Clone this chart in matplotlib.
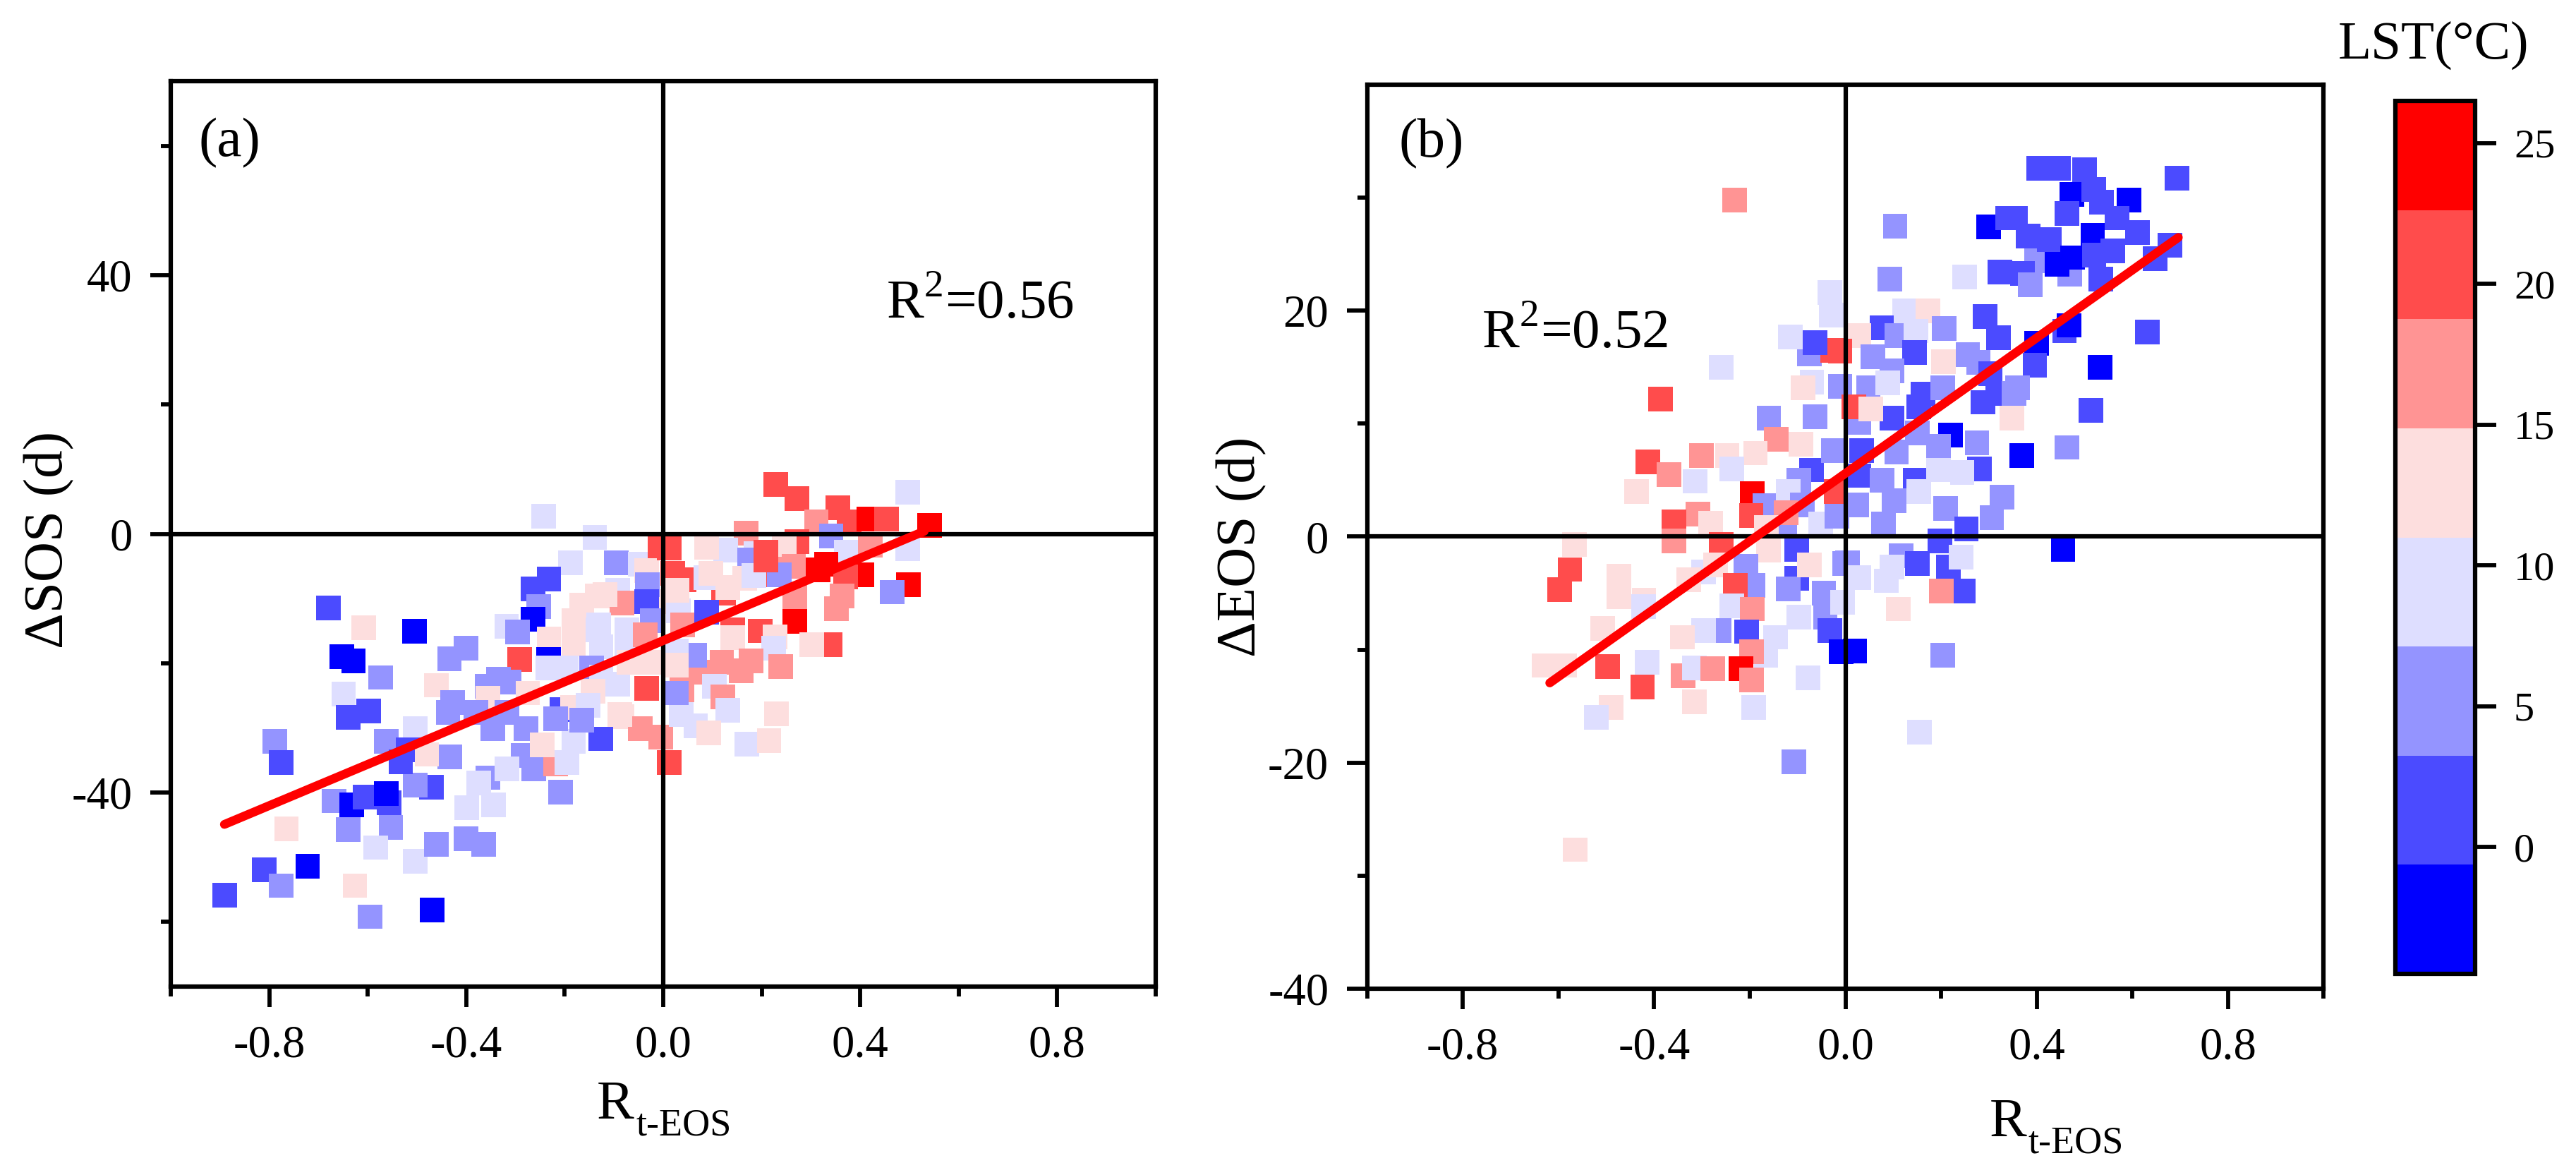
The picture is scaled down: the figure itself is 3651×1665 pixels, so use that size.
import numpy as np
import matplotlib
matplotlib.use("Agg")
import matplotlib.pyplot as plt
from matplotlib.colors import ListedColormap, BoundaryNorm
from matplotlib.cm import ScalarMappable
from matplotlib.ticker import FormatStrFormatter

plt.rcParams['font.family'] = ['Liberation Serif', 'DejaVu Serif']
plt.rcParams['mathtext.fontset'] = 'custom'
plt.rcParams['mathtext.rm'] = 'Liberation Serif'
plt.rcParams['axes.unicode_minus'] = False

# ---------------- colour scale (LST, degC) ----------------
lst_levels = [-4.5, -0.625, 3.25, 7.125, 11.0, 14.875, 18.75, 22.625, 26.5]
lst_colors = ['#0000FF', '#4B4BFF', '#9494FF', '#DEDEFF',
              '#FDDEDE', '#FF9494', '#FF4C4C', '#FF0000']
cbar_ticks = [0, 5, 10, 15, 20, 25]

# ---------------- panel (a): dSOS vs R_t-EOS ----------------
a_x = [-0.890, -0.810, -0.776, -0.722, -0.626, -0.595, -0.469, -0.765, -0.789, -0.776,
       -0.680, -0.608, -0.652, -0.629, -0.574, -0.649, -0.640, -0.598, -0.668, -0.633,
       -0.606, -0.556, -0.562, -0.640, -0.553, -0.584, -0.503, -0.460, -0.400, -0.365,
       -0.562,
       -0.134, -0.093, -0.138, -0.004, -0.126, -0.165,
       -0.243, -0.139, -0.188, -0.095, -0.046, -0.007, -0.232, -0.264, -0.253, -0.264,
       -0.505, -0.318, -0.296, -0.232, -0.291, -0.233, -0.401, -0.434, -0.461, -0.084,
       -0.118, -0.034, -0.032, -0.034, -0.023, -0.182, -0.182, -0.131, -0.074, -0.074,
       0.031, -0.036, -0.334, -0.313, -0.358, -0.356, -0.275, -0.235, -0.197, -0.145,
       -0.126, -0.093, -0.034, 0.038, -0.143, -0.205, -0.184, -0.152, -0.084, -0.046,
       -0.005, 0.012, -0.127, -0.182, -0.165, -0.219, -0.279, -0.317, -0.380, -0.437,
       -0.428, -0.346, -0.504, -0.433, -0.470, -0.504, -0.533, -0.356, -0.284, -0.263,
       -0.219, -0.195, -0.208, -0.399, -0.344, -0.375, -0.317, -0.246, 0.036, -0.088,
       -0.069, -0.021, 0.019, 0.040, -0.518, -0.480,
       0.228, 0.272, 0.354, 0.378, 0.311, 0.418, 0.454, 0.497, 0.541, 0.341,
       0.497, 0.421, 0.371, 0.168, 0.127, 0.088, 0.189, 0.175, 0.271, 0.246,
       0.208, 0.012, 0.043, 0.122, 0.314, 0.331, 0.403, 0.370, 0.498, 0.465,
       0.363, 0.352, 0.265, 0.267, 0.217, 0.210, 0.236, 0.267, 0.339, 0.302,
       0.197, 0.141, 0.141, 0.088, 0.028, 0.087, 0.097, 0.131, 0.165, 0.184,
       0.208, 0.227, 0.224, 0.239, 0.179, 0.119, 0.074, 0.158, 0.064, 0.026,
       0.026, 0.104, 0.121, 0.131, 0.230, 0.066, 0.093, 0.170, 0.215, 0.026]
a_y = [-55.9, -51.9, -54.4, -51.4, -54.4, -59.2, -58.2, -45.6, -32.1, -35.4,
       -11.5, -14.5, -19.0, -19.6, -22.2, -24.8, -28.4, -27.4, -41.3, -41.9,
       -40.7, -41.6, -40.2, -45.7, -45.4, -48.5, -50.6, -48.0, -47.1, -48.0,
       -32.1,
       -9.6, -8.7, -14.8, -10.5, -17.5, -11.0,
       2.7, -0.5, -4.5, -4.5, -4.7, -2.1, -7.0, -8.5, -11.2, -13.2,
       -15.1, -14.3, -15.2, -16.3, -19.4, -19.4, -17.7, -19.3, -23.4, -10.7,
       -9.4, -5.7, -7.9, -10.5, -13.4, -13.4, -17.0, -14.1, -14.8, -17.0,
       -11.9, -15.6, -22.5, -22.9, -23.6, -25.4, -24.6, -20.7, -20.7, -20.7,
       -22.1, -23.2, -23.9, -24.1, -24.3, -27.2, -26.8, -26.5, -28.3, -30.1,
       -31.4, -35.4, -31.7, -32.1, -28.8, -28.6, -30.1, -27.6, -27.6, -27.6,
       -26.1, -30.1, -30.1, -34.5, -39.2, -38.8, -35.2, -37.7, -34.3, -36.3,
       -35.6, -35.4, -39.9, -42.3, -41.9, -38.5, -36.3, -32.6, -27.9, -27.9,
       -19.9, -19.9, -6.1, -14.1, -33.4, -34.1,
       7.6, 5.5, 4.0, 1.9, 1.9, 2.3, 2.3, 6.4, 1.3, -0.3,
       -2.3, -1.7, -2.8, 0.1, -2.5, -2.1, -3.0, -4.0, -1.2, -1.7,
       -2.8, -2.2, -7.1, -9.2, -5.6, -4.7, -6.3, -6.7, -7.9, -9.0,
       -9.6, -11.6, -5.0, -9.7, -5.4, -6.3, -6.3, -13.5, -17.1, -17.1,
       -15.0, -14.8, -16.0, -12.1, -8.7, -6.8, -6.1, -8.3, -6.9, -6.4,
       -4.0, -15.9, -17.7, -20.5, -19.6, -19.9, -21.4, -21.2, -18.8, -18.1,
       -24.6, -23.6, -25.2, -27.3, -27.8, -29.7, -30.8, -32.5, -32.0, -20.3]
a_lst = [1.5, 1.5, 5, -2.5, 13, 5, -2.5, 13, 5, 1.5,
         1.5, 13, -2.5, -2.5, 5, 9, 1.5, 1.5, 5, -2.5,
         1.5, 1.5, -2.5, 5, 5, 9, 9, 5, 5, 5,
         5,
         13, 9, 9, 13, 9, 13,
         9, 9, 9, 5, 9, 20.5, 1.5, 1.5, 5, -2.5,
         -2.5, 9, 5, 13, 20.5, -2.5, 5, 5, 13, 17,
         13, 13, 5, 1.5, 5, 13, 13, 9, 9, 9,
         9, 17, 5, 5, 5, 13, 13, 9, 9, 5,
         9, 9, 20.5, 17, 13, 1.5, 13, 9, 13, 17,
         17, 20.5, 1.5, 9, 5, 5, 5, 5, 5, 5,
         5, 5, 9, 5, 1.5, 5, 1.5, 5, 5, 5,
         17, 9, 5, 9, 9, 9, 9, 13, 9, 13,
         13, 13, 20.5, 17, 1.5, 13,
         20.5, 20.5, 20.5, 20.5, 17, 24.5, 20.5, 9, 24.5, 5,
         9, 17, 9, 17, 9, 13, 9, 5, 20.5, 13,
         20.5, 20.5, 20.5, 20.5, 24.5, 24.5, 24.5, 20.5, 24.5, 5,
         17, 17, 17, 17, 17, 20.5, 5, 24.5, 20.5, 13,
         20.5, 20.5, 13, 1.5, 13, 9, 13, 13, 13, 9,
         20.5, 13, 9, 17, 17, 17, 17, 17, 5, 9,
         5, 9, 17, 9, 13, 9, 13, 9, 13, 13]
a_fit_slope = 31.9
a_fit_intercept = -16.5
a_fit_xrange = [-0.891, 0.53]
a_r2 = "0.56"

# ---------------- panel (b): dEOS vs R_t-EOS ----------------
b_x = [-0.259, -0.386, -0.160, -0.064, -0.070, -0.089, -0.075, -0.026, -0.064, -0.011,
       -0.144, -0.093, -0.188, -0.301, -0.247, -0.237, -0.413, -0.369, -0.314, -0.437,
       -0.071, -0.097, -0.025, -0.195, -0.168, -0.197, -0.119, -0.090, -0.051, -0.018,
       -0.020, -0.127, -0.124, -0.308, -0.282, -0.359, -0.359, -0.165, -0.566, -0.576,
       -0.597, -0.474, -0.474, -0.421, -0.422, -0.259, -0.161, -0.102, -0.208, -0.296,
       -0.272, -0.328, -0.193, -0.230, -0.102, -0.119, -0.045, -0.001, -0.075, -0.237,
       -0.195, -0.097, -0.042, -0.032, -0.009, -0.206, -0.264, -0.296, -0.341, -0.146,
       -0.166, -0.196, -0.508, -0.587, -0.497, -0.414, -0.339, -0.316, -0.277, -0.218,
       -0.196, -0.078, -0.424, -0.630,
       -0.231, 0.104, -0.032, -0.030, 0.299, 0.339, -0.490, -0.521, -0.316, -0.192,
       -0.108, 0.020, 0.155, 0.203, -0.565, -0.115,
       0.093, 0.249, 0.323, 0.124, 0.173, 0.076, 0.292, 0.320, 0.207, 0.108,
       0.148, 0.028, -0.011, 0.145, 0.057, 0.205, 0.256, 0.278, 0.097, 0.048,
       0.089, 0.162, 0.153, 0.203, 0.288, 0.318, 0.303, 0.352, 0.513, 0.348,
       0.220, 0.097, 0.028, 0.018, 0.053, 0.034, 0.107, 0.151, 0.195, 0.275,
       0.369, 0.463, 0.280, 0.028, 0.146, 0.077, 0.195, 0.244, 0.102, 0.153,
       0.328, 0.210, 0.306, 0.253, 0.080, 0.023, 0.198, 0.455, 0.116, 0.150,
       0.215, 0.242, 0.246, 0.201, 0.004, 0.028, 0.085, 0.097, 0.111, -0.006,
       0.400, 0.469, 0.404, 0.446, 0.500, 0.693, 0.474, 0.519, 0.593, 0.535,
       0.463, 0.568, 0.610, 0.355, 0.382, 0.426, 0.517, 0.475, 0.443, 0.559,
       0.520, 0.679, 0.647, 0.370, 0.387, 0.534, 0.458, 0.468, 0.400, 0.396,
       0.631, 0.532, 0.360]
b_y = [15.0, 12.2, 10.5, 10.6, 13.7, 13.2, 16.2, 16.5, 17.2, 13.3,
       8.6, 8.2, 7.4, 7.2, 7.2, 6.0, 6.6, 5.5, 4.9, 4.0,
       5.9, 5.0, 7.6, 3.8, 2.75, 1.9, 4.0, 2.8, 1.1, 1.8,
       4.0, 1.1, 2.1, 2.0, 1.2, 1.3, -0.4, 0.8, -0.7, -2.9,
       -4.7, -3.5, -5.3, -5.6, -6.2, -0.7, -1.2, -1.1, -2.6, -3.1,
       -2.5, -3.8, -4.3, -4.3, -3.7, -4.6, -5.0, -2.4, -2.5, -6.1,
       -6.4, -7.1, -7.1, -8.3, -10.2, -8.4, -8.3, -8.3, -8.9, -8.9,
       -10.5, -10.2, -8.1, -11.4, -11.5, -11.1, -12.3, -11.6, -11.7, -11.7,
       -12.7, -12.5, -13.3, -11.4,
       29.8, 27.5, 21.6, 19.6, 27.4, 28.2, -15.1, -16.0, -14.6, -15.1,
       -19.9, -10.1, -17.3, -10.5, -27.7, 17.7,
       22.8, 23.0, 23.4, 20.0, 20.0, 18.5, 19.5, 17.6, 18.4, 17.8,
       18.2, 17.8, 16.4, 16.3, 15.9, 15.5, 16.1, 15.4, 14.7, 13.2,
       13.6, 12.6, 11.5, 13.2, 11.9, 12.7, 14.4, 12.7, 11.2, 10.5,
       9.0, 10.5, 10.1, 11.5, 11.3, 7.6, 7.5, 9.2, 8.0, 8.3,
       7.2, 7.9, 6.0, 5.4, 5.0, 5.0, 5.9, 5.7, 3.2, 4.0,
       3.5, 2.5, 1.7, 0.7, 1.1, 2.8, -0.4, -1.1, -1.7, -2.4,
       -2.7, -1.8, -4.8, -4.8, -2.3, -3.6, -3.9, -2.7, -6.4, -5.8,
       24.4, 23.2, 32.6, 32.6, 32.5, 31.7, 30.3, 30.7, 29.8, 29.6,
       28.6, 28.2, 26.9, 28.2, 26.6, 26.3, 26.7, 24.7, 24.1, 25.3,
       24.9, 25.8, 24.6, 23.3, 22.3, 22.8, 18.2, 18.7, 17.1, 15.2,
       18.1, 15.0, 13.2]
b_lst = [9, 20.5, 5, 5, 9, 13, 5, 20.5, 1.5, 5,
         17, 13, 13, 17, 13, 9, 20.5, 17, 9, 13,
         1.5, 5, 5, 24.5, 5, 20.5, 9, 5, 9, 5,
         20.5, 5, 17, 17, 13, 20.5, 17, 13, 13, 20.5,
         20.5, 13, 13, 13, 9, 20.5, 13, 1.5, 5, 9,
         13, 13, 5, 20.5, 1.5, 5, 5, 5, 13, 9,
         17, 9, 5, 1.5, -2.5, 1.5, 5, 9, 13, 9,
         9, 17, 13, 13, 20.5, 9, 17, 9, 17, 24.5,
         17, 9, 20.5, 13,
         17, 5, 9, 9, -2.5, 1.5, 13, 9, 13, 9,
         5, -2.5, 9, 5, 13, 9,
         5, 9, 1.5, 9, 13, 1.5, 1.5, 1.5, 5, 5,
         9, 13, 20.5, 1.5, 5, 13, 5, 5, 5, 5,
         9, 1.5, 1.5, 5, 1.5, 1.5, 1.5, 5, 1.5, 13,
         -2.5, 1.5, 5, 20.5, 13, 1.5, 5, 5, 5, 5,
         -2.5, 5, 1.5, 1.5, 1.5, 5, 9, 9, 5, 9,
         5, 5, 5, 1.5, 5, 5, 1.5, -2.5, 5, 1.5,
         1.5, 9, 1.5, 17, 5, 9, 9, 9, 13, 9,
         5, 5, 1.5, 1.5, 1.5, 1.5, -2.5, 1.5, -2.5, 1.5,
         1.5, 1.5, 1.5, 1.5, 1.5, 1.5, -2.5, -2.5, -2.5, 1.5,
         1.5, 1.5, 1.5, 1.5, 5, 1.5, 1.5, -2.5, -2.5, 1.5,
         1.5, -2.5, 5]
b_fit_slope = 30.0
b_fit_intercept = 5.6
b_fit_xrange = [-0.618, 0.696]
b_r2 = "0.52"

x_major = [-0.8, -0.4, 0.0, 0.4, 0.8]
x_minor = [-1.0, -0.6, -0.2, 0.2, 0.6, 1.0]
a_y_major = [-40, 0, 40]
a_y_minor = [-60, -20, 20, 60]
b_y_major = [-40, -20, 0, 20]
b_y_minor = [-30, -10, 10, 30]

# ---------------- figure ----------------
fig = plt.figure(figsize=(3651 / 300, 1665 / 300), dpi=300)
cmap = ListedColormap(lst_colors)
norm = BoundaryNorm(lst_levels, cmap.N)

axa = fig.add_axes([0.06628, 0.16036, 0.38236, 0.77057])
axb = fig.add_axes([0.53068, 0.15856, 0.37140, 0.76937])
cax = fig.add_axes([0.92988, 0.17117, 0.03095, 0.74294])


def draw_panel(ax, xs, ys, cs, slope, icpt, xr, ylim, ymaj, ymin):
    ax.scatter(xs, ys, c=cs, cmap=cmap, norm=norm, marker='s', s=70,
               linewidths=0, zorder=2)
    ax.axhline(0, color='black', lw=1.5, zorder=3)
    ax.axvline(0, color='black', lw=1.5, zorder=3)
    fx = np.array(xr)
    ax.plot(fx, slope * fx + icpt, color='#FF0000', lw=3.0,
            solid_capstyle='round', zorder=4)
    ax.set_xlim(-1.0, 1.0)
    ax.set_ylim(*ylim)
    ax.set_xticks(x_major)
    ax.set_xticks(x_minor, minor=True)
    ax.set_yticks(ymaj)
    ax.set_yticks(ymin, minor=True)
    ax.xaxis.set_major_formatter(FormatStrFormatter('%.1f'))
    ax.yaxis.set_major_formatter(FormatStrFormatter('%d'))
    ax.tick_params(which='major', direction='out', length=7, width=1.4,
                   labelsize=15.5, pad=6, top=False, right=False)
    ax.tick_params(which='minor', direction='out', length=3.4, width=1.4,
                   top=False, right=False)
    for sp in ax.spines.values():
        sp.set_linewidth(1.5)


draw_panel(axa, a_x, a_y, a_lst, a_fit_slope, a_fit_intercept, a_fit_xrange,
           (-70, 70), a_y_major, a_y_minor)
draw_panel(axb, b_x, b_y, b_lst, b_fit_slope, b_fit_intercept, b_fit_xrange,
           (-40, 40), b_y_major, b_y_minor)

axa.text(-0.943, 60.5, '(a)', fontsize=19, ha='left', va='center')
axa.text(0.453, 33.4, r'R$^{\mathregular{2}}$=' + a_r2, fontsize=19,
         ha='left', va='baseline')
axb.text(-0.934, 34.8, '(b)', fontsize=19, ha='left', va='center')
axb.text(-0.761, 16.8, r'R$^{\mathregular{2}}$=' + b_r2, fontsize=19,
         ha='left', va='baseline')

# axis labels
fig.text(0.019, 0.5405, '\u0394SOS (d)', fontsize=19, rotation=90,
         ha='center', va='center')
fig.text(0.4818, 0.5345, '\u0394EOS (d)', fontsize=19, rotation=90,
         ha='center', va='center')
fig.text(0.2317, 0.0480, 'R', fontsize=19, ha='left', va='baseline')
fig.text(0.2468, 0.0342, 't-EOS', fontsize=13, ha='left', va='baseline')
fig.text(0.7723, 0.0330, 'R', fontsize=19, ha='left', va='baseline')
fig.text(0.7872, 0.0192, 't-EOS', fontsize=13, ha='left', va='baseline')

# colour bar
cb = fig.colorbar(ScalarMappable(norm=norm, cmap=cmap), cax=cax,
                  ticks=cbar_ticks)
cb.outline.set_linewidth(1.5)
cb.minorticks_off()
cax.tick_params(direction='out', length=7.2, width=1.4, labelsize=14, pad=6)
fig.text(0.9447, 0.9616, 'LST(\u00b0C)', fontsize=18.5, ha='center',
         va='center')

fig.savefig('out.png', dpi=300)
